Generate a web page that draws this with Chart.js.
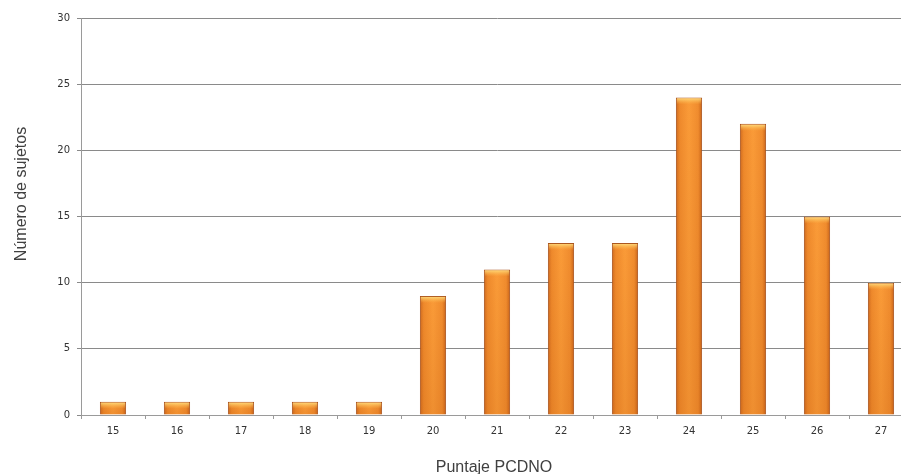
<!DOCTYPE html>
<html>
<head>
<meta charset="utf-8">
<script src="https://cdn.jsdelivr.net/npm/chart.js@4/dist/chart.umd.min.js"></script>
<style>
  html, body { margin: 0; padding: 0; background: #ffffff; overflow: hidden; width: 901px; height: 474px; }
  #wrap { width: 913px; height: 474px; }
</style>
</head>
<body>
<div id="wrap"><canvas id="c" width="913" height="474"></canvas></div>
<script>
// Score distribution: number of subjects per PCDNO score
const scores = ['15', '16', '17', '18', '19', '20', '21', '22', '23', '24', '25', '26', '27'];
const subjects = [1, 1, 1, 1, 1, 9, 11, 13, 13, 24, 22, 15, 10];
const yTicks = [0, 5, 10, 15, 20, 25, 30];
const yTitle = 'Número de sujetos';
const xTitle = 'Puntaje PCDNO';

const BAR_RATIO = 0.41;

// Horizontal shading across each bar: darker edges, bright centre
function barFill(ctx) {
  const chart = ctx.chart;
  const xs = chart.scales && chart.scales.x;
  if (!xs || ctx.dataIndex === undefined) return '#f4902f';
  const cx = xs.getPixelForValue(ctx.dataIndex);
  const w = (xs.width / scores.length) * BAR_RATIO;
  if (!isFinite(cx) || !isFinite(w) || w <= 0) return '#f4902f';
  const g = chart.ctx.createLinearGradient(cx - w / 2, 0, cx + w / 2, 0);
  g.addColorStop(0, '#cf6a1e');
  g.addColorStop(0.15, '#ef8a2c');
  g.addColorStop(0.5, '#fa9b38');
  g.addColorStop(0.85, '#f08c2e');
  g.addColorStop(1, '#c96419');
  return g;
}

// Light cap along the top of each bar and a slight darkening toward its base
const barShade = {
  id: 'barShade',
  afterDatasetsDraw(chart) {
    const c = chart.ctx;
    chart.getDatasetMeta(0).data.forEach(el => {
      const left = el.x - el.width / 2;
      const h = el.base - el.y;
      c.save();
      const d = c.createLinearGradient(0, el.y, 0, el.base);
      d.addColorStop(0, 'rgba(170,70,0,0)');
      d.addColorStop(1, 'rgba(170,70,0,0.14)');
      c.fillStyle = d;
      c.fillRect(left + 1, el.y + 1, el.width - 2, h - 1);
      const g = c.createLinearGradient(0, el.y, 0, el.y + 7);
      g.addColorStop(0, 'rgba(255,232,140,0.95)');
      g.addColorStop(1, 'rgba(255,190,80,0)');
      c.fillStyle = g;
      c.fillRect(left + 1, el.y + 1, el.width - 2, Math.min(6, h - 1));
      c.restore();
    });
  }
};

// Axis captions: rotated one on the left, horizontal one under the tick labels
const captions = {
  id: 'captions',
  afterDraw(chart) {
    const c = chart.ctx;
    c.save();
    c.font = '16px "Liberation Sans"';
    c.fillStyle = '#404040';
    c.textAlign = 'center';
    c.textBaseline = 'alphabetic';
    c.fillText(xTitle, 494, 472);
    c.translate(26, 194);
    c.rotate(-Math.PI / 2);
    c.fillText(yTitle, 0, 0);
    c.restore();
  }
};

new Chart(document.getElementById('c'), {
  type: 'bar',
  data: {
    labels: scores,
    datasets: [{
      data: subjects,
      backgroundColor: barFill,
      borderColor: '#a9521c',
      borderWidth: 1,
      borderSkipped: 'bottom',
      categoryPercentage: 1,
      barPercentage: BAR_RATIO
    }]
  },
  plugins: [barShade, captions],
  options: {
    responsive: false,
    animation: false,
    events: [],
    layout: { padding: { top: 18, right: 0, left: 0, bottom: 0 } },
    plugins: { legend: { display: false }, tooltip: { enabled: false } },
    scales: {
      x: {
        afterFit(scale) { scale.height = 59; },
        grid: {
          offset: true,
          drawOnChartArea: false,
          drawTicks: true,
          tickLength: 4,
          color: '#9a9a9a'
        },
        border: { color: '#9a9a9a', width: 1 },
        ticks: {
          padding: 6,
          color: '#333333',
          font: { family: 'DejaVu Sans', size: 10 }
        },
        title: { display: false }
      },
      y: {
        min: 0,
        max: 30,
        afterFit(scale) { scale.width = 81; },
        afterBuildTicks(scale) { scale.ticks = yTicks.map(v => ({ value: v })); },
        grid: {
          color: '#8a8a8a',
          drawTicks: true,
          tickLength: 4
        },
        border: { color: '#9a9a9a', width: 1 },
        ticks: {
          padding: 7,
          color: '#333333',
          font: { family: 'DejaVu Sans', size: 10 }
        },
        title: { display: false }
      }
    }
  }
});
</script>
</body>
</html>
